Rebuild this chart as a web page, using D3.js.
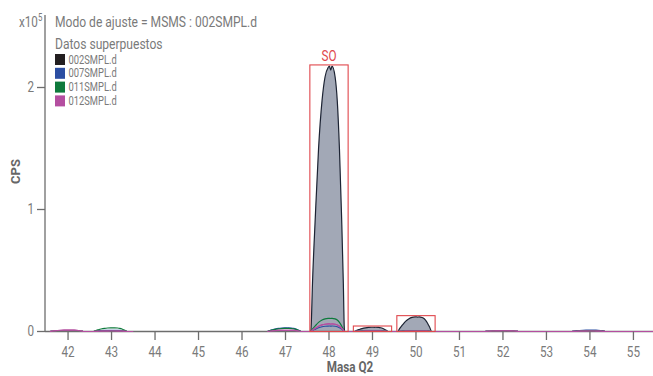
<!DOCTYPE html>
<html>
<head>
<meta charset="utf-8">
<script src="https://cdn.jsdelivr.net/npm/d3@7/dist/d3.min.js"></script>
<style>
  body { margin: 0; background: #fff; }
  text { font-family: Roboto, "DejaVu Sans Condensed", sans-serif; }
</style>
</head>
<body>
<div id="chart"></div>
<script>
// scanned Q2 masses and peak heights (x10^5 CPS) per sample
var masses = [42, 43, 47, 48, 49, 50, 51, 52, 53, 54, 55];
var segments = [[42, 43], [47, 55]];
var s002 = [0.004, 0.006, 0.008, 2.175, 0.035, 0.12, 0, 0.004, 0, 0.006, 0];
var s007 = [0.003, 0.010, 0.030, 0.045, 0.005, 0.008, 0, 0.003, 0, 0.012, 0];
var s011 = [0.004, 0.030, 0.025, 0.108, 0.004, 0.006, 0, 0.003, 0, 0.006, 0];
var s012 = [0.012, 0.004, 0.010, 0.062, 0.003, 0.004, 0, 0.006, 0, 0.004, 0];
var seriesNames = ["002SMPL.d", "007SMPL.d", "011SMPL.d", "012SMPL.d"];
var seriesColors = ["#231f20", "#2b4ea2", "#0e7a3c", "#b44ea0"];

// peak profile read from the 48 peak: offset (Da) and fraction of max
var profOff = [-0.42, -0.41, -0.38, -0.315, -0.24, -0.16, -0.09, -0.02, 0.01, 0.04, 0.07, 0.14, 0.19, 0.24, 0.29, 0.33, 0.35, 0.36];
var profFrac = [0, 0.02, 0.18, 0.43, 0.69, 0.87, 0.96, 0.995, 1.0, 0.985, 1.0, 0.96, 0.87, 0.69, 0.43, 0.18, 0.02, 0];

// marked peaks
var boxMasses = [48, 49, 50];
var boxTops = [2.185, 0.045, 0.13];
var boxLabels = ["SO", "", ""];

var xTicks = [42, 43, 44, 45, 46, 47, 48, 49, 50, 51, 52, 53, 54, 55];
var yTicks = [0, 1, 2];

function init() {
  var W = 653, H = 376;
  var svg = d3.select("#chart").append("svg")
    .attr("width", W).attr("height", H);

  var x = d3.scaleLinear().domain([41.47, 55.45]).range([45, 653]);
  var y = d3.scaleLinear().domain([0, 2]).range([331.5, 87.5]);

  var grey = "#6d6d6d";
  var textGrey = "#7a7a7a";
  var narrow = 0.78; // squeeze text horizontally, the original uses a condensed face

  // condensed text helper
  function label(px, py, size, str) {
    return svg.append("text")
      .attr("transform", "translate(" + px + "," + py + ") scale(" + narrow + ",1)")
      .attr("font-size", size).attr("fill", textGrey)
      .text(str);
  }

  // build profile points for one series
  function buildPoints(vals) {
    var out = [];
    segments.forEach(function(seg) {
      var pts = [];
      masses.forEach(function(m, i) {
        if (m < seg[0] || m > seg[1]) return;
        profOff.forEach(function(o, j) {
          pts.push([m + o, vals[i] * profFrac[j]]);
        });
      });
      pts.push([seg[1] + 0.5, 0]);
      out.push(pts);
    });
    return out;
  }

  var line = d3.line()
    .x(function(d) { return x(d[0]); })
    .y(function(d) { return y(d[1]); })
    .curve(d3.curveMonotoneX);
  var area = d3.area()
    .x(function(d) { return x(d[0]); })
    .y0(y(0))
    .y1(function(d) { return y(d[1]); })
    .curve(d3.curveMonotoneX);

  var allSeries = [s002, s007, s011, s012];

  // grey fill for the main sample
  buildPoints(s002).forEach(function(pts) {
    svg.append("path").attr("d", area(pts))
      .attr("fill", "#a2a8b6").attr("stroke", "none");
  });

  // lines for every sample
  allSeries.forEach(function(vals, k) {
    buildPoints(vals).forEach(function(pts) {
      svg.append("path").attr("d", line(pts))
        .attr("fill", "none")
        .attr("stroke", k == 0 ? "#1c2333" : seriesColors[k])
        .attr("stroke-width", 1.2);
    });
  });

  // axes
  svg.append("line").attr("x1", 45).attr("x2", 45).attr("y1", 15).attr("y2", y(0))
    .attr("stroke", grey).attr("stroke-width", 1.3);
  svg.append("line").attr("x1", 45).attr("x2", 653).attr("y1", y(0)).attr("y2", y(0))
    .attr("stroke", grey).attr("stroke-width", 1.3);

  // magenta baseline drawn again over the axis
  buildPoints(s012).forEach(function(pts) {
    svg.append("path").attr("d", line(pts))
      .attr("fill", "none").attr("stroke", seriesColors[3]).attr("stroke-width", 1.2);
  });

  svg.selectAll("ytick").data(yTicks).enter().append("line")
    .attr("x1", 37).attr("x2", 45)
    .attr("y1", function(d) { return y(d); }).attr("y2", function(d) { return y(d); })
    .attr("stroke", grey).attr("stroke-width", 1.3);
  yTicks.forEach(function(d) {
    label(34, y(d) + 4, 15, d).attr("text-anchor", "end");
  });

  svg.selectAll("xtick").data(xTicks).enter().append("line")
    .attr("x1", function(d) { return x(d); }).attr("x2", function(d) { return x(d); })
    .attr("y1", y(0)).attr("y2", y(0) + 8.5)
    .attr("stroke", grey).attr("stroke-width", 1.3);
  xTicks.forEach(function(d) {
    label(x(d), 357, 15, d).attr("text-anchor", "middle");
  });

  // marked peak boxes
  boxMasses.forEach(function(m, i) {
    svg.append("rect")
      .attr("x", x(m - 0.44)).attr("y", y(boxTops[i]))
      .attr("width", x(m + 0.44) - x(m - 0.44))
      .attr("height", y(0) - y(boxTops[i]))
      .attr("fill", "none").attr("stroke", "#e0474c").attr("stroke-width", 1.1);
    if (boxLabels[i]) {
      label(x(m), y(boxTops[i]) - 3.5, 15, boxLabels[i])
        .attr("text-anchor", "middle").attr("fill", "#e0474c");
    }
  });

  // axis titles
  label(350, 372, 15, "Masa Q2")
    .attr("text-anchor", "middle").attr("font-weight", "bold").attr("fill", "#666");
  svg.append("text").attr("transform", "translate(19.5,171.5) rotate(-90)")
    .attr("text-anchor", "middle").attr("font-size", 13).attr("font-weight", "bold")
    .attr("fill", "#666").text("CPS");

  // exponent
  var ex = label(19, 27, 15, "");
  ex.append("tspan").text("x10");
  ex.append("tspan").attr("dy", -6).attr("font-size", 10).text("5");

  // title and legend
  label(55, 27, 15.5, "Modo de ajuste = MSMS : 002SMPL.d");
  label(55, 49, 15.5, "Datos superpuestos");

  svg.selectAll("legsq").data(seriesNames).enter().append("rect")
    .attr("x", 55).attr("y", function(d, i) { return 54 + i * 13.8; })
    .attr("width", 10).attr("height", 11)
    .attr("fill", function(d, i) { return seriesColors[i]; });
  seriesNames.forEach(function(d, i) {
    label(68.5, 63.5 + i * 13.8, 12, d);
  });
}
window.onload = init;
</script>
</body>
</html>
